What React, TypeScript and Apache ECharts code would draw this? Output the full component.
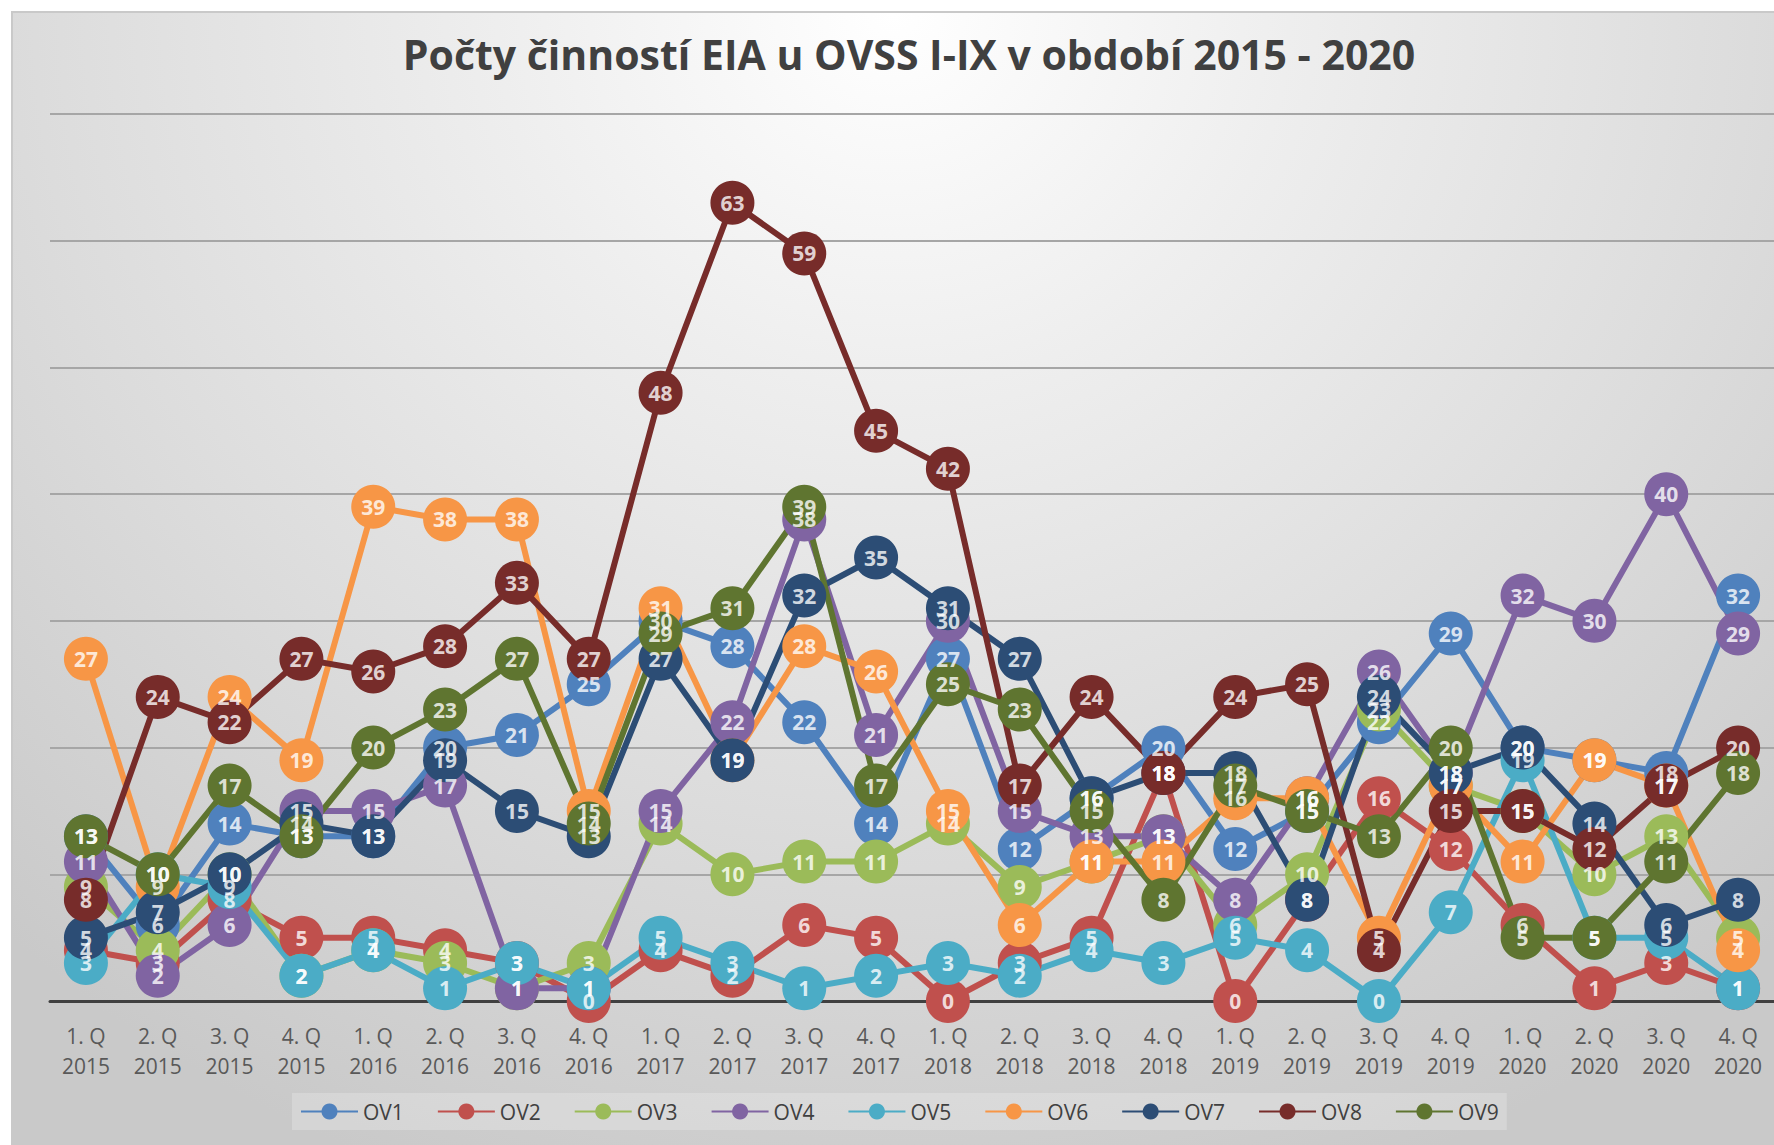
import React, { useEffect, useRef } from "react";
import * as echarts from "echarts";

const title = "Počty činností EIA u OVSS I-IX v období 2015 - 2020";

const categories = [
  "1. Q\n2015", "2. Q\n2015", "3. Q\n2015", "4. Q\n2015",
  "1. Q\n2016", "2. Q\n2016", "3. Q\n2016", "4. Q\n2016",
  "1. Q\n2017", "2. Q\n2017", "3. Q\n2017", "4. Q\n2017",
  "1. Q\n2018", "2. Q\n2018", "3. Q\n2018", "4. Q\n2018",
  "1. Q\n2019", "2. Q\n2019", "3. Q\n2019", "4. Q\n2019",
  "1. Q\n2020", "2. Q\n2020", "3. Q\n2020", "4. Q\n2020",
];

const seriesNames = ["OV1", "OV2", "OV3", "OV4", "OV5", "OV6", "OV7", "OV8", "OV9"];

const ov1 = [13, 6, 14, 13, 13, 20, 21, 25, 30, 28, 22, 14, 27, 12, 16, 20, 12, 15, 22, 29, 20, 19, 18, 32];
const ov2 = [4, 3, 8, 5, 5, 4, 3, 0, 4, 2, 6, 5, 0, 3, 5, 18, 0, 8, 16, 12, 6, 1, 3, 1];
const ov3 = [9, 4, 10, 2, 4, 3, 1, 3, 14, 10, 11, 11, 14, 9, 11, 13, 6, 10, 23, 17, 15, 10, 13, 5];
const ov4 = [11, 2, 6, 15, 15, 17, 1, 1, 15, 22, 38, 21, 30, 15, 13, 13, 8, 16, 26, 18, 32, 30, 40, 29];
const ov5 = [3, 10, 9, 2, 4, 1, 3, 1, 5, 3, 1, 2, 3, 2, 4, 3, 5, 4, 0, 7, 19, 5, 5, 1];
const ov6 = [27, 9, 24, 19, 39, 38, 38, 15, 31, 19, 28, 26, 15, 6, 11, 11, 16, 16, 5, 17, 11, 19, 17, 4];
const ov7 = [5, 7, 10, 14, 13, 19, 15, 13, 27, 19, 32, 35, 31, 27, 16, 18, 18, 8, 24, 18, 20, 14, 6, 8];
const ov8 = [8, 24, 22, 27, 26, 28, 33, 27, 48, 63, 59, 45, 42, 17, 24, 18, 24, 25, 4, 15, 15, 12, 17, 20];
const ov9 = [13, 10, 17, 13, 20, 23, 27, 14, 29, 31, 39, 17, 25, 23, 15, 8, 17, 15, 13, 20, 5, 5, 11, 18];

const seriesValues = [ov1, ov2, ov3, ov4, ov5, ov6, ov7, ov8, ov9];

const colors = ["#4F81BD", "#C0504D", "#9BBB59", "#8064A2", "#4BACC6", "#F79646", "#2C4D75", "#772C2A", "#5F7530"];

const FONT = "'Open Sans', 'Noto Sans', sans-serif";

export default function App() {
  const ref = useRef<HTMLDivElement>(null);

  useEffect(() => {
    if (!ref.current) return;
    const chart = echarts.init(ref.current, null, { renderer: "svg" });

    const lineSeries = seriesNames.map((name, i) => ({
      name,
      type: "line",
      data: seriesValues[i],
      symbol: "circle",
      symbolSize: 44,
      showAllSymbol: true,
      lineStyle: { color: colors[i], width: 6 },
      itemStyle: { color: colors[i] },
      label: { show: false },
      emphasis: { disabled: true },
      z: 2,
    }));

    const labelSeries = seriesNames.map((name, i) => ({
      name: name + " ",
      type: "scatter",
      data: seriesValues[i],
      symbol: "circle",
      symbolSize: 1,
      itemStyle: { color: "rgba(0,0,0,0)" },
      label: {
        show: true,
        position: "inside",
        color: "#ffffff",
        fontFamily: FONT,
        fontWeight: "bold",
        fontSize: 21,
      },
      silent: true,
      emphasis: { disabled: true },
      z: 10,
    }));

    chart.setOption({
      animation: false,
      color: colors,
      title: {
        text: title,
        left: 904,
        textAlign: "center",
        top: 28,
        textStyle: { fontFamily: FONT, fontWeight: "bold", fontSize: 41, color: "#404040" },
      },
      grid: { left: 50, top: 114, width: 1728, bottom: 144 },
      xAxis: {
        type: "category",
        data: categories,
        boundaryGap: true,
        axisLine: { lineStyle: { color: "#404040", width: 3 } },
        axisTick: { show: false },
        axisLabel: {
          interval: 0,
          fontFamily: FONT,
          fontSize: 21,
          color: "#595959",
          lineHeight: 30,
          margin: 20,
        },
      },
      yAxis: {
        type: "value",
        min: 0,
        max: 70,
        interval: 10,
        axisLabel: { show: false },
        axisLine: { show: false },
        axisTick: { show: false },
        splitLine: { lineStyle: { color: "#a6a6a6", width: 2 } },
      },
      legend: {
        data: seriesNames,
        top: 1093,
        left: 292,
        itemWidth: 57,
        itemHeight: 20,
        itemGap: 33,
        padding: [8, 8],
        backgroundColor: "rgba(255,255,255,0.22)",
        textStyle: { fontFamily: FONT, fontSize: 21, color: "#404040" },
      },
      series: [...lineSeries, ...labelSeries],
    });

    return () => chart.dispose();
  }, []);

  return (
    <div style={{ position: "absolute", left: 0, top: 0, width: 1774, height: 1145, background: "#ffffff" }}>
      <div
        style={{
          position: "absolute",
          left: 11,
          top: 11,
          width: 1763,
          height: 1134,
          borderTop: "2px solid #c9c9c9",
          borderLeft: "2px solid #c9c9c9",
          boxSizing: "border-box",
          background:
            "radial-gradient(ellipse 75% 110% at 50% 0%, #ffffff 0%, #eeeeee 30%, #dcdcdc 65%, #c9c9c9 100%)",
        }}
      />
      <div ref={ref} style={{ position: "absolute", left: 0, top: 0, width: 1774, height: 1145 }} />
    </div>
  );
}
